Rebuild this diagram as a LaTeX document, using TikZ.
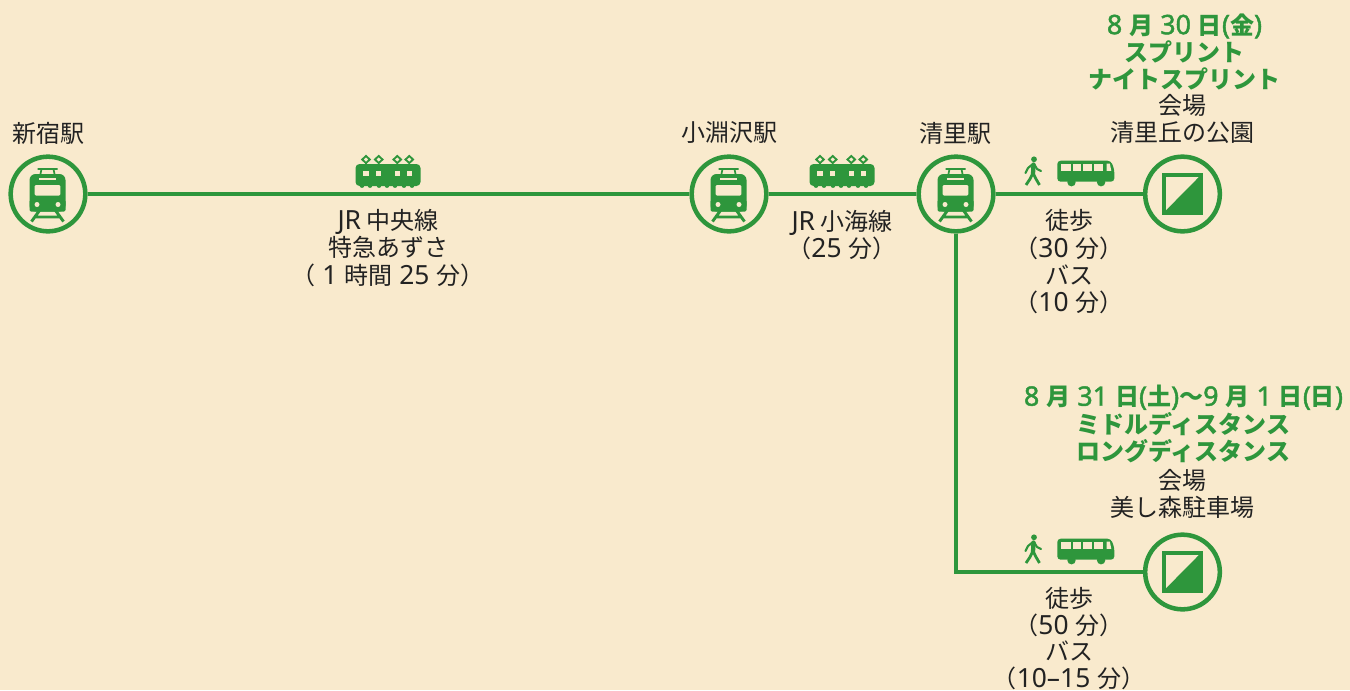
\documentclass[tikz,border=0pt]{standalone}
\usepackage{fontspec}
\setmainfont{Noto Sans CJK JP}
\newfontfamily\lat[Scale=1.1]{Noto Sans}
\newfontfamily\latb[FakeBold=1.6,Scale=1.12]{Noto Sans}
\definecolor{bgc}{HTML}{F9EACD}
\definecolor{grn}{HTML}{2E963C}
\definecolor{ink}{HTML}{222222}
\newcommand{\La}[1]{{\lat #1}}
\newcommand{\Lb}[1]{{\latb #1}}
\tikzset{
  x=0.75pt,y=-0.75pt,
  route/.style={draw=grn,line width=3.6pt},
  stop/.style={circle,draw=grn,line width=3.4pt,fill=bgc,minimum size=56pt,inner sep=0pt},
  lbl/.style={text=ink,align=center,inner sep=0pt,font=\fontsize{18}{20.5}\selectfont},
  hdr/.style={text=grn,align=center,inner sep=0pt,font=\fontsize{18}{20.5}\selectfont\bfseries},
  pics/trainicon/.style={code={
    \fill[grn,rounded corners=4.5pt] (-18.5,17.5) -- (-18.5,-20) -- (17.5,-20) -- (17.5,17.5) -- cycle;
    \fill[grn,rounded corners=1pt] (-18.5,6) rectangle (17.5,17.5);
    \draw[grn,line width=1.3pt] (-10.5,-25) -- (9.5,-25) (-6.5,-25) -- (-7.5,-20) (5.5,-25) -- (6.5,-20);
    \fill[bgc,rounded corners=0.8pt] (-13.3,-9) rectangle (12.3,1.5);
    \fill[bgc] (-8.7,-16) rectangle (8,-13.7);
    \fill[bgc] (-11,10.5) circle (2.5) (10,10.5) circle (2.5);
    \draw[grn,line width=2.2pt] (-8.5,16.5) -- (-16.5,27.5) (7.5,16.5) -- (15.5,27.5) (-12,23) -- (11,23);
  }},
  pics/railcar/.style={code={
    \fill[grn,rounded corners=3pt] (-32.5,9) -- (-32.5,-13) -- (32.5,-13) -- (32.5,9) -- cycle;
    \foreach \wx in {-26,-18,-9,-1,7,16,24}{\fill[grn] (\wx,8.5) circle (2.4);}
    \foreach \wx in {-22,-9.3,9.3,21.3}{
      \draw[grn,line width=1.4pt,fill=bgc] (\wx,-21) -- (\wx+3.8,-17.5) -- (\wx,-14) -- (\wx-3.8,-17.5) -- cycle;
      \draw[grn,line width=1pt] (\wx,-14.5) -- (\wx,-12);
      \fill[bgc] (\wx-2.7,-6.4) rectangle (\wx+2.7,-1);
    }
  }},
  pics/walker/.style={code={
    \fill[grn] (1,-12.7) circle (2.9);
    \draw[grn,line width=3.2pt,line cap=round,line join=round] (0.5,-7.5) -- (0,2);
    \draw[grn,line width=1.6pt,line cap=round,line join=round] (0,-8) -- (-5,-4) -- (-7.5,1);
    \draw[grn,line width=1.6pt,line cap=round,line join=round] (1,-8) -- (4,-3) -- (8,-1);
    \draw[grn,line width=2.1pt,line join=round] (0,1) -- (-3,7) -- (-7,13);
    \draw[grn,line width=2.1pt,line join=round] (0,1) -- (3,7) -- (6.5,13);
  }},
  pics/coach/.style={code={
    \fill[grn,rounded corners=2.5pt] (-28.5,10.5) -- (-28.5,-10.5) -- (25,-10.5) -- (28.5,-2) -- (28.5,10.5) -- cycle;
    \foreach \wa/\wb in {-25.2/-15.2,-13.2/-4.5,-2.5/6.5,8.5/17.5}{\fill[bgc] (\wa,-7.7) rectangle (\wb,-0.3);}
    \fill[bgc] (20.8,-7.7) -- (24,-7.7) -- (25.5,-0.3) -- (20.8,-0.3) -- cycle;
    \fill[grn] (-14.3,11) circle (4.2) (15.3,11) circle (4.2);
  }},
  pics/flag/.style={code={
    \fill[grn] (-20.8,-20.8) rectangle (20.8,20.8);
    \fill[bgc] (-16.4,-16.8) -- (16,-16.8) -- (-16.4,16) -- cycle;
  }},
}
\begin{document}
\begin{tikzpicture}
\useasboundingbox[fill=bgc] (0,0) rectangle (1350,690);
% stations
\node[stop] (shinjuku) at (48,194) {};
\node[stop] (kobuchi) at (729,194) {};
\node[stop] (kiyosato) at (956,194) {};
\node[stop] (venueA) at (1182.5,194) {};
\node[stop] (venueB) at (1182.5,572) {};
\coordinate (corner) at (956,572);
% connectors
\draw[route] (shinjuku) -- (kobuchi);
\draw[route] (kobuchi) -- (kiyosato);
\draw[route] (kiyosato) -- (venueA);
\draw[route] (kiyosato) -- (corner) -- (venueB);
% icons
\pic at (48,194) {trainicon};
\pic at (729,194) {trainicon};
\pic at (956,194) {trainicon};
\pic at (1182.5,194) {flag};
\pic at (1182.5,572) {flag};
\pic at (388,177) {railcar};
\pic at (842,177) {railcar};
\pic at (1033,172) {walker};
\pic at (1033,550) {walker};
\pic at (1085.8,171.2) {coach};
\pic at (1085.8,549.2) {coach};
% labels
\node[lbl] (t1) at (48.5,133) {新宿駅};
\node[lbl] (t2) at (729,133) {小淵沢駅};
\node[lbl] (t3) at (955,133) {清里駅};
\node[lbl] (t4) at (388,248) {\La{JR} 中央線\\特急あずさ\\（\La{ 1 }時間\La{ 25 }分）};
\node[lbl] (t5) at (842,235) {\La{JR} 小海線\\（\La{25 }分）};
\node[hdr] (t6) at (1184.5,52) {\Lb{8 }月\Lb{ 30 }日\Lb{(}金\Lb{)}\\スプリント\\ナイトスプリント};
\node[lbl] (t7) at (1182,119) {会場\\清里丘の公園};
\node[lbl] (t8) at (1069,262) {徒歩\\（\La{30 }分）\\バス\\（\La{10 }分）};
\node[hdr] (t9) at (1183.5,424) {\Lb{8 }月\Lb{ 31 }日\Lb{(}土\Lb{)}〜\Lb{9 }月\Lb{ 1 }日\Lb{(}日\Lb{)}\\ミドルディスタンス\\ロングディスタンス};
\node[lbl] (t10) at (1182,494) {会場\\美し森駐車場};
\node[lbl,font=\fontsize{18}{20}\selectfont] (t11) at (1069,638.5) {徒歩\\（\La{50 }分）\\バス\\（\La{10–15 }分）};
\end{tikzpicture}
\end{document}
